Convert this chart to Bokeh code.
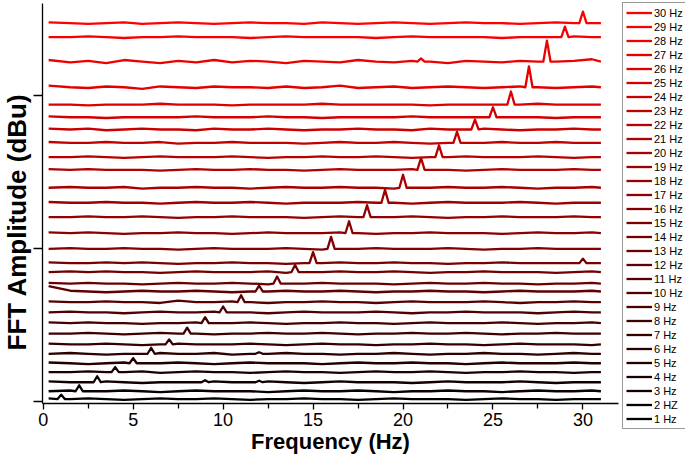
from bokeh.plotting import figure
from bokeh.layouts import row, column
from bokeh.models import Legend, LegendItem, FixedTicker, Range1d, Title
from bokeh.embed import file_html
from bokeh.resources import INLINE

# ---------------- data ----------------
STIM_FREQS = [1, 2, 3, 4, 5, 6, 7, 8, 9, 10, 11, 12, 13, 14, 15,
              16, 17, 18, 19, 20, 21, 22, 23, 24, 25, 26, 27, 28, 29, 30]
LEGEND_LABELS = ["1 Hz", "2 HZ", "3 Hz", "4 Hz", "5 Hz", "6 Hz", "7 Hz", "8 Hz",
                 "9 Hz", "10 Hz", "11 Hz", "12 Hz", "13 Hz", "14 Hz", "15 Hz",
                 "16 Hz", "17 Hz", "18 Hz", "19 Hz", "20 Hz", "21 Hz", "22 Hz",
                 "23 Hz", "24 Hz", "25 Hz", "26 Hz", "27 Hz", "28 Hz", "29 Hz", "30 Hz"]
# vertical offset (baseline) of each stacked spectrum, arbitrary dBu units
BASELINES = [1.6, 6.7, 12.6, 19.2, 25.0, 31.2, 37.3, 44.4, 51.2, 58.2,
             64.9, 71.9, 77.1, 84.6, 90.4, 99.8, 110.0, 120.5, 129.9, 139.7,
             151.4, 159.7, 169.1, 177.8, 185.8, 194.1, 205.4, 222.2, 238.1, 247.3]
# height of the main peak at the stimulus frequency
PEAK_HEIGHTS = [2.9, 3.9, 3.9, 3.3, 3.3, 3.9, 3.3, 3.9, 3.9, 3.9,
                4.6, 3.9, 4.6, 4.6, 7.2, 7.8, 7.8, 7.8, 8.5, 8.5,
                7.8, 7.8, 7.2, 6.5, 6.5, 8.5, 13.7, 13.7, 6.9, 7.5]
# small secondary peaks: (stimulus Hz, at Hz, height)
HARMONICS = [(3, 9, 1.3), (3, 12, 1.0), (6, 12, 1.0), (15, 30, 3.0), (28, 21, 2.0)]
# frequencies where the background level was read
FREQ_GRID = [0.3, 1.5, 2.5, 3.5, 4.5, 5.5, 6.5, 7.5, 8.5, 9.5, 10.5, 11.5,
             12.5, 13.5, 14.5, 15.5, 16.5, 17.5, 18.5, 19.5, 20.5, 21.5, 22.5,
             23.5, 24.5, 25.5, 26.5, 27.5, 28.5, 29.5, 30.5, 31.0]
# background wiggle relative to the baseline, per spectrum (1 Hz ... 30 Hz)
NOISE = [
    [0.5, 0, 0.5, 0, -0.5, 0, 0.5, 0, 0, 0.5, 0, -0.5, 0, 0, 0.5, 0, 0, -0.5, 0, 0.5, 0, 0, 0, -0.5, 0, 0.5, 0, 0, -0.5, 0, 0, 0],
    [0, 0.5, 0, 0, 0.5, 0, -0.5, 0, 0.5, 0, 0, 0, -0.5, 0, 0.5, 0, 0, 0.5, 0, -0.5, 0, 0, 0.5, 0, 0, -0.5, 0, 0.5, 0, 0, 0.5, 0],
    [0.5, 0, 0, 0.5, 0, -0.5, 0, 0, 0, 0.5, 0, 0, 0.5, 0, -0.5, 0, 0.5, 0, 0, 0, -0.5, 0, 0.5, 0, 0, 0, 0.5, 0, -0.5, 0, 0, 0],
    [0, 0, 0.5, 0, 0, 0.5, -0.5, 0, 0.5, 0, 0, -0.5, 0, 0.5, 0, 0, -0.5, 0, 0.5, 0, 0, 0.5, 0, -0.5, 0, 0, 0.5, 0, 0, -0.5, 0, 0],
    [0.5, 0, -0.5, 0, 0.5, 0, 0, 0.5, 0, -0.5, 0, 0.5, 0, 0, 0, -0.5, 0, 0.5, 0, 0, 0.5, 0, 0, -0.5, 0, 0.5, 0, 0, 0, 0.5, 0, 0],
    [0, 0.5, 0, -0.5, 0, 0, 0.5, 0, 0, 0.5, -0.5, 0, 0, 0.5, 0, 0, -0.5, 0, 0, 0.5, 0, -0.5, 0, 0, 0.5, 0, 0, -0.5, 0, 0.5, 0, 0],
    [0.5, 0, 0, 0.5, 0, -0.5, 0, 0.5, 0, 0, 0, 0.5, 0, -0.5, 0, 0.5, 0, 0, -0.5, 0, 0, 0.5, 0, 0, -0.5, 0, 0.5, 0, 0, 0, -0.5, 0],
    [0, 0, 0.5, 0, -0.5, 0, 0.5, 0, 0, -0.5, 0, 0, 0.5, 0, 0, 0.5, 0, -0.5, 0, 0, 0.5, 0, 0, 0.5, 0, -0.5, 0, 0, 0.5, 0, 0, 0],
    [0.5, 0, 0.5, 0, 0, -0.5, 0, 0, 0.5, 0, 0, 0.5, 0, -0.5, 0, 0, 0.5, 0, 0, -0.5, 0, 0.5, 0, 0, 0, 0.5, 0, -0.5, 0, 0, 0.5, 0],
    [0, 0.5, 0, 0, -0.5, 0, 0.5, 0, 0, 0.5, 0, 0, -0.5, 0, 0.5, 0, 0, 0, 0.5, 0, -0.5, 0, 0, 0.5, 0, 0, 0, -0.5, 0, 0.5, 0, 0],
    [0.5, 0, 0, 0.5, 0, 0, -0.5, 1.0, 0, 0, 0.5, 0, -0.5, 0, 0, 0.5, 0, 0, -0.5, 0, 0.5, 0, 0, 0, 0.5, 0, -0.5, 0, 0, 0.5, 0, 0],
    [3.5, 0.5, 0, -0.5, 0, 0.5, 0, 0, 0.5, 0, -0.5, 0, 0, 0.5, 0, 0, 0.5, 0, -0.5, 0, 0, 0.5, 0, 0, -0.5, 0, 0.5, 0, 0, 0, 0.5, 0],
    [0.5, 0, 0.5, 0, 0, -0.5, 0, 0.5, 0, 0, 0.5, 0, -0.5, 0, 0, 0.5, 0, 0, 0, -0.5, 0, 0.5, 0, 0, 0.5, 0, 0, -0.5, 0, 0, 0.5, 0],
    [0, 0.5, 0, 0.5, 0, 0, -0.5, 0, 0.5, 0, 0, 0, 0.5, -0.5, 0, 0, 0.5, 0, 0, 0.5, 0, -0.5, 0, 0, 0.5, 0, 0, 0, -0.5, 0, 0.5, 0],
    [0.5, 0, 0, 0.5, 0, 0.5, 0, -0.5, 0, 0, 0.5, 0, 0, -0.5, 0, 0, 0.5, 0, 0, 0.5, 0, 0, -0.5, 0, 0, 0.5, 0, 0, 0, 0, 0, 0],
    [0, 0.5, 0, 0, 0.5, 0, 0, -0.5, 0, 0.5, 0, 0, 0, 0.5, 0, -0.5, 0, 0, 0.5, 0, 0, 0, 0.5, 0, -0.5, 0, 0, 0.5, 0, 0, 0, 0],
    [0.5, 0, 0.5, 0, -0.5, 0, 0, 0.5, 0, 0, -0.5, 0, 0.5, 0, 0, 0, 0.5, 0, -0.5, 0, 0, 0.5, 0, 0, 0, -0.5, 0, 0.5, 0, 0, 0.5, 0],
    [0, 0, 0.5, 0, 0, 0.5, 0, -0.5, 0, 0, 0.5, 0, 0, 0, -0.5, 0, 0.5, 0, 0, 0, 0.5, 0, -0.5, 0, 0, 0.5, 0, 0, 0, 0.5, 0, 0],
    [0.5, 0, 0, 0.5, 0, 0, -0.5, 0, 0.5, 0, 0, 0.5, 0, -0.5, 0, 0, 0, 0.5, 0, 0, -0.5, 0, 0.5, 0, 0, 0, 0.5, 0, -0.5, 0, 0, 0],
    [0, 0.5, 0, 0, 0.5, -0.5, 0, 0, 0.5, 0, 0, -0.5, 0, 0.5, 0, 0, 0.5, 0, 0, -0.5, 0, 0, 0.5, 0, 0, 0.5, 0, -0.5, 0, 0, 0.5, 0],
    [0.5, 0, 0.5, 0, 0, 0, -0.5, 0, 0.5, 0, 0, 0.5, 0, 0, -0.5, 0, 0.5, 0, 0, 0, 0.5, 0, 0, -0.5, 0, 0.5, 0, 0, 0, 0.5, 0, 0],
    [0, 0, 0.5, 0, -0.5, 0, 0.5, 0, 0, 0, 0.5, 0, -0.5, 0, 0, 0.5, 0, 0, 0.5, 0, -0.5, 0, 0, 0.5, 0, 0, 0, 0.5, 0, -0.5, 0, 0],
    [0.5, 0, 0, 0.5, 0, 0, 0.5, -0.5, 0, 0, 0.5, 0, 0, 0, -0.5, 0, 0.5, 0, 0, 0.5, 0, -0.5, 0, 0, 0, 0.5, 0, 0, 0.5, 0, 0, 0],
    [0.5, 0, 0.5, -0.5, 0, 0.5, 0, 0, -0.5, 0.5, 0, 0, 0.5, 0, -0.5, 0, 0, 0.5, 0, 0, -0.5, 0.5, 0, 0, 0.5, 0, -0.5, 0, 0, 0.5, 0, 0],
    [0.5, 0, 0, -0.5, 0, 0, 0, 0, 0.5, 0, 0, 0, 0.5, 0, 0, -0.5, 0, 0, 0, 0, 0.5, 0, 0, 0, 0, 0, 0, 0, -0.5, 0, 0, 0],
    [0, 0, -0.5, 0, 0, 0, 0.5, 0, 0, 0, -0.5, 0, 0, 0, 0, 0.5, 0, 0, 0, 0, 0, -0.5, 0, 0, 0, 0, 0, 0.5, 0, 0, 0, 0],
    [1, 0, -0.5, 0.5, 0, -1, 0.5, 0, -0.5, 0.5, 0, 0, -0.5, 0.5, -0.5, 0, 1, -0.5, 0, 0.5, -0.5, 0, 0.5, 0, -0.5, 0, 0.5, 0, -0.5, 0, 0.5, 0],
    [1, -0.5, 0.5, -1, 1, 0, -1, 0.5, -0.5, 1, -0.5, 0.5, 0, -1, 0.5, 0, -0.5, 1, 0, -0.5, 0.5, 0, -1, 0.5, 0, -0.5, 0.5, 0, 0, 0.5, 1.5, 0],
    [0, 0, 0.5, 0, -0.5, 0, 0, 0.5, 0, 0, 0, -0.5, 0, 0.5, 0, 0, 0, 0, -0.5, 0, 0.5, 0, 0, 0, 0, -0.5, 0, 0, 0, 0.5, 0, 0],
    [0.5, 0, -0.5, 0, 0.5, -0.5, 0, 0.5, 0, -0.5, 0, 0.5, 0, 0, -0.5, 0.5, 0, -0.5, 0, 0.5, 0, -0.5, 0, 0.5, 0, 0, -0.5, 0, 0.5, 0, 0, 0],
]
X_TICKS = [0, 5, 10, 15, 20, 25, 30]
X_MINOR_TICKS = [2.5, 7.5, 12.5, 17.5, 22.5, 27.5]
Y_TICKS = [0, 100, 200]

# ---------------- main figure ----------------
FONT = "Liberation Sans"
LEFT, TOP, BOTTOM, RIGHT = 42, 3, 57, 4
W, H = 622, 460
LEG_W = 685 - W
FRAME_W, FRAME_H = W - LEFT - RIGHT, H - TOP - BOTTOM
X0 = -0.04
PX_PER_HZ = 17.99
PX_PER_UNIT = 1.53
Y0 = -1.3

p = figure(width=W, height=H, output_backend="svg", toolbar_location=None,
           x_range=Range1d(X0, X0 + FRAME_W / PX_PER_HZ),
           y_range=Range1d(Y0, Y0 + FRAME_H / PX_PER_UNIT),
           min_border_left=LEFT, min_border_right=RIGHT, min_border_top=TOP,
           min_border_bottom=BOTTOM)
p.grid.visible = False
p.outline_line_color = None
p.background_fill_color = "white"
p.border_fill_color = "white"

# ---------------- legend panel (separate canvas at the right) ----------------
q = figure(width=LEG_W, height=H, output_backend="svg", toolbar_location=None,
           x_axis_type=None, y_axis_type=None, x_range=Range1d(100, 101),
           y_range=Range1d(1000, 1001), min_border=0, min_border_left=0,
           min_border_right=0, min_border_top=0, min_border_bottom=0)
q.grid.visible = False
q.outline_line_color = None
q.background_fill_color = "white"
q.border_fill_color = "white"

n = len(STIM_FREQS)
leg_renderers = []
for i, f in enumerate(STIM_FREQS):
    base = BASELINES[i]
    noise = (list(NOISE[i]) + [0] * len(FREQ_GRID))[:len(FREQ_GRID)]
    pts = [(x, base + v) for x, v in zip(FREQ_GRID, noise)]
    peaks = [(f, PEAK_HEIGHTS[i])] + [(h_at, h) for (s, h_at, h) in HARMONICS if s == f]
    for (pf, ph) in peaks:
        pts += [(pf - 0.2, base), (pf, base + ph), (pf + 0.2, base)]
    pts.sort()
    xs = [t[0] for t in pts]
    ys = [t[1] for t in pts]
    color = "#%02x0000" % round(255 * i / (n - 1))
    p.line(xs, ys, line_color=color, line_width=2.3, line_join="round")
    # same spectrum in the legend canvas (outside its view) so the legend has a swatch
    leg_renderers.append(q.line(xs, ys, line_color=color, line_width=2.3))

# x axis
xa = p.xaxis[0]
xa.ticker = FixedTicker(ticks=X_TICKS, minor_ticks=X_MINOR_TICKS)
xa.axis_line_width = 1.3
xa.major_tick_line_width = 1.3
xa.minor_tick_line_width = 1.3
xa.major_tick_out = 6
xa.major_tick_in = 0
xa.minor_tick_out = 5
xa.minor_tick_in = 0
xa.major_label_text_font = FONT
xa.major_label_text_font_size = "18px"
xa.major_label_text_color = "black"
xa.major_label_standoff = 3
xa.axis_label = "Frequency (Hz)"
xa.axis_label_text_font = FONT
xa.axis_label_text_font_size = "22px"
xa.axis_label_text_font_style = "bold"
xa.axis_label_text_color = "black"
xa.axis_label_standoff = 0

# y axis (ticks only, no numbers)
ya = p.yaxis[0]
ya.ticker = FixedTicker(ticks=Y_TICKS, minor_ticks=[])
ya.axis_line_width = 1.3
ya.major_tick_line_width = 1.3
ya.major_tick_out = 9
ya.major_tick_in = 0
ya.minor_tick_out = 0
ya.minor_tick_in = 0
ya.major_label_text_font_size = "1px"
ya.major_label_text_color = None
ya.major_label_standoff = 9

p.add_layout(Title(text="FFT Amplitude (dBu)", align="left", offset=53, standoff=0,
                   vertical_align="top",
                   text_font=FONT, text_font_style="bold", text_font_size="26px",
                   text_color="black"), "left")

items = [LegendItem(label=LEGEND_LABELS[i], renderers=[leg_renderers[i]])
         for i in range(n - 1, -1, -1)]
legend = Legend(items=items, location=(0, 31), margin=0, padding=3, spacing=1,
                glyph_width=26, glyph_height=13, label_height=13, label_standoff=2,
                label_text_font=FONT, label_text_font_size="11px",
                label_text_color="black", border_line_color="#333333",
                border_line_width=1, background_fill_color="white",
                background_fill_alpha=1.0)
q.add_layout(legend)

open("out.html", "w").write(file_html(row(p, column(q)), INLINE))
